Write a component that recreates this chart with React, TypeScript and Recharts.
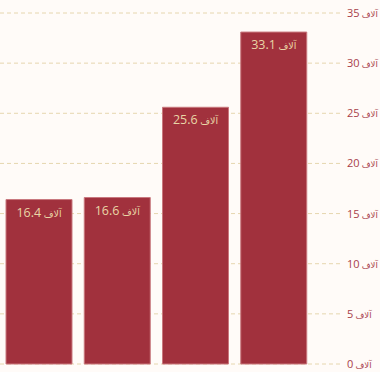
import React from 'react';
import { BarChart, Bar, XAxis, YAxis, CartesianGrid, LabelList } from 'recharts';

const categories = ['A', 'B', 'C', 'D'];
const values = [16.4, 16.6, 25.6, 33.1];
const yTicks = [0, 5, 10, 15, 20, 25, 30, 35];
const unit = 'آلاف';

const data = categories.map((name, i) => ({ name, value: values[i] }));

// plain svg text so recharts doesn't wrap the label; arabic part a bit smaller
const RightTick = (props: any) => {
  const { x, y, payload } = props;
  return (
    <text x={x + 5} y={y} dy={4} direction='ltr' textAnchor='start' fill='#A8404A' fontSize={11}>
      <tspan>{payload.value}</tspan>
      <tspan fontSize={8.5}> {unit}</tspan>
    </text>
  );
};

const BarValue = (props: any) => {
  const { x, y, width, value } = props;
  return (
    <text
      x={x + width / 2}
      y={y + 17}
      direction='ltr'
      textAnchor='middle'
      fill='#E9D6A6'
      fontSize={12.5}
    >
      <tspan>{value}</tspan>
      <tspan fontSize={9.5}> {unit}</tspan>
    </text>
  );
};

const App: React.FC = () => {
  return (
    <div
      style={{
        position: 'absolute',
        left: 0,
        top: 0,
        width: 380,
        height: 372,
        background: '#FFFBF8',
        fontFamily: '"Open Sans", "DejaVu Sans", sans-serif',
      }}
    >
      <BarChart
        width={380}
        height={372}
        data={data}
        margin={{ top: 13, right: 0, bottom: 8, left: 0 }}
        barCategoryGap={6}
      >
        <CartesianGrid
          vertical={false}
          stroke='#E6D6AE'
          strokeDasharray='4 3'
        />
        <XAxis dataKey='name' hide padding={{ left: 0, right: 27 }} />
        <YAxis
          orientation='right'
          width={40}
          domain={[0, 35]}
          ticks={yTicks}
          interval={0}
          axisLine={false}
          tickLine={false}
          tickSize={0}
          tick={<RightTick />}
        />
        <Bar
          dataKey='value'
          fill='#A1313D'
          stroke='#C9787E'
          strokeWidth={1}
          isAnimationActive={false}
        >
          <LabelList dataKey='value' content={<BarValue />} />
        </Bar>
      </BarChart>
    </div>
  );
};

export default App;
